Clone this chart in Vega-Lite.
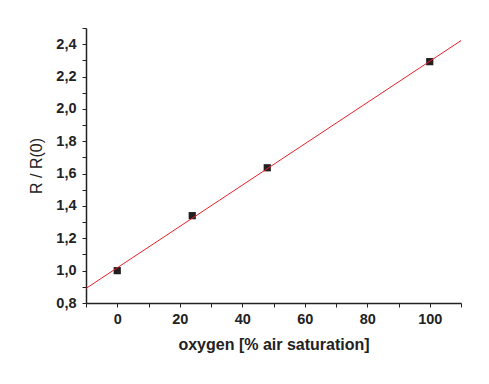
{
  "$schema": "https://vega.github.io/schema/vega-lite/v6.json",
  "autosize": "none",
  "width": 375,
  "height": 275,
  "padding": {"left": 86, "top": 28, "right": 28, "bottom": 81},
  "background": "white",
  "datasets": {
    "meas": [
      {"oxygen": 0, "ratio": 1.0},
      {"oxygen": 24, "ratio": 1.34},
      {"oxygen": 48, "ratio": 1.636},
      {"oxygen": 100, "ratio": 2.292}
    ],
    "fit": [
      {"oxygen": -10, "ratio": 0.89},
      {"oxygen": 110, "ratio": 2.422}
    ]
  },
  "config": {
    "view": {"stroke": null},
    "axis": {
      "grid": false,
      "domainColor": "#222222",
      "domainWidth": 1.5,
      "tickColor": "#222222",
      "tickSize": 4,
      "tickWidth": 1,
      "labelFont": "Liberation Sans",
      "labelFontSize": 14.5,
      "labelFontWeight": "bold",
      "labelColor": "#222222",
      "titleFont": "Liberation Sans",
      "titleColor": "#222222"
    }
  },
  "resolve": {"axis": {"x": "independent", "y": "independent"}},
  "layer": [
    {
      "data": {"name": "meas"},
      "mark": {"type": "point", "shape": "square", "filled": true, "size": 52, "color": "#231f20", "opacity": 1},
      "encoding": {
        "x": {
          "field": "oxygen", "type": "quantitative",
          "scale": {"domain": [-10, 110], "nice": false, "zero": false},
          "axis": {
            "orient": "bottom",
            "values": [0, 20, 40, 60, 80, 100],
            "labelPadding": 5,
            "title": "oxygen [% air saturation]",
            "titleFontSize": 16,
            "titleFontWeight": "bold",
            "titlePadding": 11
          }
        },
        "y": {
          "field": "ratio", "type": "quantitative",
          "scale": {"domain": [0.8, 2.5], "nice": false, "zero": false},
          "axis": {
            "orient": "left",
            "values": [0.8, 1.0, 1.2, 1.4, 1.6, 1.8, 2.0, 2.2, 2.4],
            "labelExpr": "replace(format(datum.value, '.1f'), '.', ',')",
            "labelPadding": 6,
            "title": "R / R(0)",
            "titleFontSize": 16,
            "titleFontWeight": "normal",
            "titlePadding": 11
          }
        }
      }
    },
    {
      "data": {"name": "fit"},
      "mark": {"type": "line", "color": "#e8202a", "strokeWidth": 1},
      "encoding": {
        "x": {
          "field": "oxygen", "type": "quantitative",
          "axis": {
            "orient": "bottom",
            "values": [-10, 10, 30, 50, 70, 90, 110],
            "labels": false,
            "domain": false,
            "title": null
          }
        },
        "y": {
          "field": "ratio", "type": "quantitative",
          "axis": {
            "orient": "left",
            "values": [0.9, 1.1, 1.3, 1.5, 1.7, 1.9, 2.1, 2.3, 2.5],
            "labels": false,
            "domain": false,
            "title": null
          }
        }
      }
    }
  ]
}
